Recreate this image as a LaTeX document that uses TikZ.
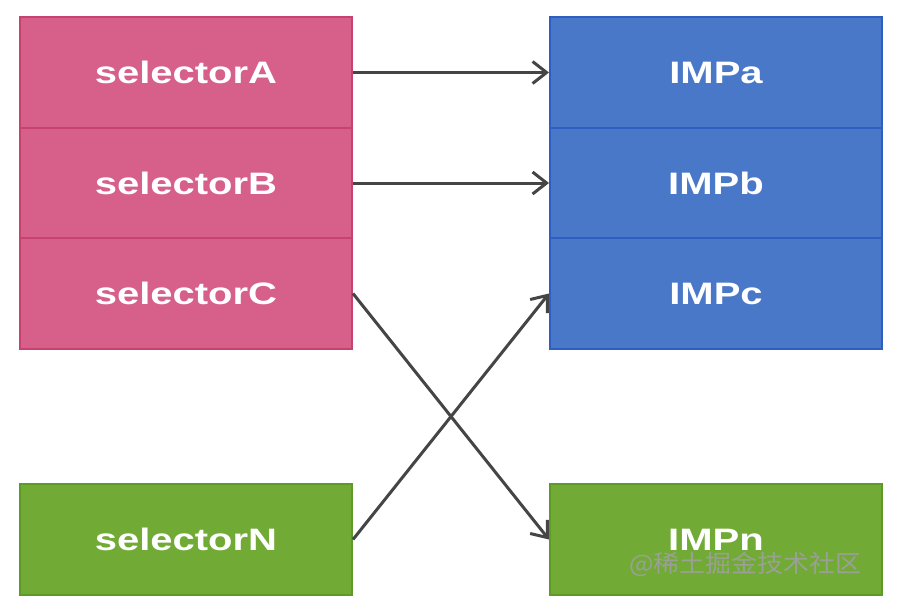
\documentclass[tikz,border=0pt]{standalone}
\usepackage{fontspec}
\newfontfamily\lblfont{Liberation Sans Bold}[FakeStretch=1.29]
\newfontfamily\cjkwm{Noto Sans CJK SC}[FakeStretch=1.08]
\usetikzlibrary{arrows.meta}
\definecolor{pinkfill}{HTML}{D6608A}
\definecolor{pinkline}{HTML}{C8426F}
\definecolor{bluefill}{HTML}{4A78C9}
\definecolor{blueline}{HTML}{2E5EC2}
\definecolor{greenfill}{HTML}{71AB36}
\definecolor{greenline}{HTML}{5E9A28}
\definecolor{arrowgray}{HTML}{454545}
\tikzset{
  cell/.style={rectangle, minimum width=332pt, minimum height=110.5pt, inner sep=0pt,
    line width=2pt, text=white, font=\lblfont\fontsize{31}{37}\selectfont},
  pinkcell/.style={cell, fill=pinkfill, draw=pinkline},
  bluecell/.style={cell, fill=bluefill, draw=blueline},
  greencell/.style={cell, fill=greenfill, draw=greenline},
  link/.style={draw=arrowgray, line width=3pt, -{Straight Barb[length=14pt,width=22pt,line width=3pt]}},
}
\begin{document}
\begin{tikzpicture}[x=1pt,y=-1pt]
\useasboundingbox[fill=white] (0,0) rectangle (911,608);
\node[pinkcell] (sA) at (186,72.5) {selectorA};
\node[pinkcell] (sB) at (186,183) {selectorB};
\node[pinkcell] (sC) at (186,293.5) {selectorC};
\node[greencell, minimum height=111pt] (sN) at (186,539.5) {selectorN};
\node[bluecell] (iA) at (716,72.5) {IMPa};
\node[bluecell] (iB) at (716,183) {IMPb};
\node[bluecell] (iC) at (716,293.5) {IMPc};
\node[greencell, minimum height=111pt] (iN) at (716,539.5) {IMPn};
\draw[link] (sA.east) -- (iA.west);
\draw[link] (sB.east) -- (iB.west);
\draw[link] (sC.east) -- (iN.west);
\draw[link] (sN.east) -- (iC.west);
\node[text=gray!75, opacity=0.9, font=\cjkwm\fontsize{24}{28}\selectfont] (wm) at (745,564) {@稀土掘金技术社区};
\end{tikzpicture}
\end{document}
